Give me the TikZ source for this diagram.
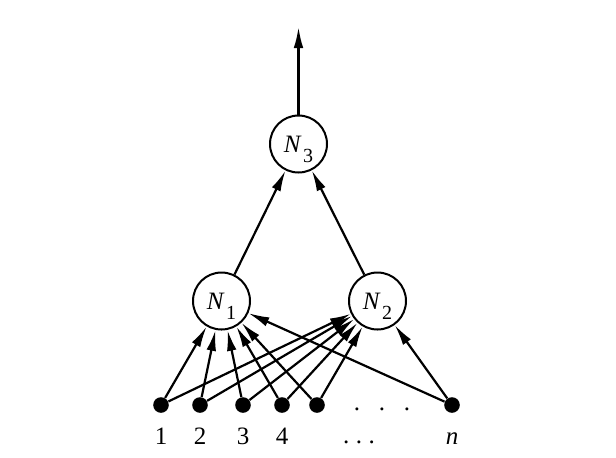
\documentclass[tikz,border=0pt]{standalone}
\usepackage{fontspec}
\setmainfont{Liberation Serif}
\usetikzlibrary{arrows.meta}
\newcommand{\neur}[1]{\textit{N}\kern0.8pt\raisebox{-5pt}[0pt][0pt]{\fontsize{10}{11}\selectfont #1}}
\begin{document}
\begin{tikzpicture}[x=0.5pt, y=-0.5pt, font=\fontsize{12.5}{14}\selectfont,
  label distance=7pt,
  neuron/.style={shape=circle, draw=black, line width=1pt, minimum size=28.5pt, inner sep=0pt},
  input/.style={shape=circle, fill=black, minimum size=7.8pt, inner sep=0pt},
  link/.style={-{Latex[length=10.5pt,width=4.8pt]}, line width=1.1pt, draw=black},
  every label/.style={text height=8.4pt, text depth=0pt, inner sep=0pt}]
\useasboundingbox (0,0) rectangle (616,457);
\node[neuron] (N3) at (298.5,144) {\neur{3}};
\node[neuron] (N1) at (221.5,301) {\neur{1}};
\node[neuron] (N2) at (377.5,301) {\neur{2}};
\coordinate (out) at (298.5,27);
\node[input, label=below:1] (1) at (161,405) {};
\node[input, label=below:2] (2) at (200,405) {};
\node[input, label=below:3] (3) at (243,405) {};
\node[input, label=below:4] (4) at (282,405) {};
\node[input] (5) at (317,405) {};
\node[input, label=below:\textit{n}] (n) at (452,405) {};
\node[anchor=base, inner sep=0pt] (gap) at (382,410.5) {.\hspace{9.4pt}.\hspace{9.4pt}.};
\node[anchor=base, inner sep=0pt] (ldots) at (359,443) {.\hspace{3.2pt}.\hspace{3.2pt}.};
\path [link] (N3) edge (out);
\path [link] (N1) edge (N3);
\path [link] (N2) edge (N3);
\path [link] (1) edge (N1);
\path [link] (2) edge (N1);
\path [link] (3) edge (N1);
\path [link] (4) edge (N1);
\path [link] (5) edge (N1);
\path [link] (n) edge (N1);
\path [link] (1) edge (N2);
\path [link] (2) edge (N2);
\path [link] (3) edge (N2);
\path [link] (4) edge (N2);
\path [link] (5) edge (N2);
\path [link] (n) edge (N2);
\end{tikzpicture}
\end{document}
